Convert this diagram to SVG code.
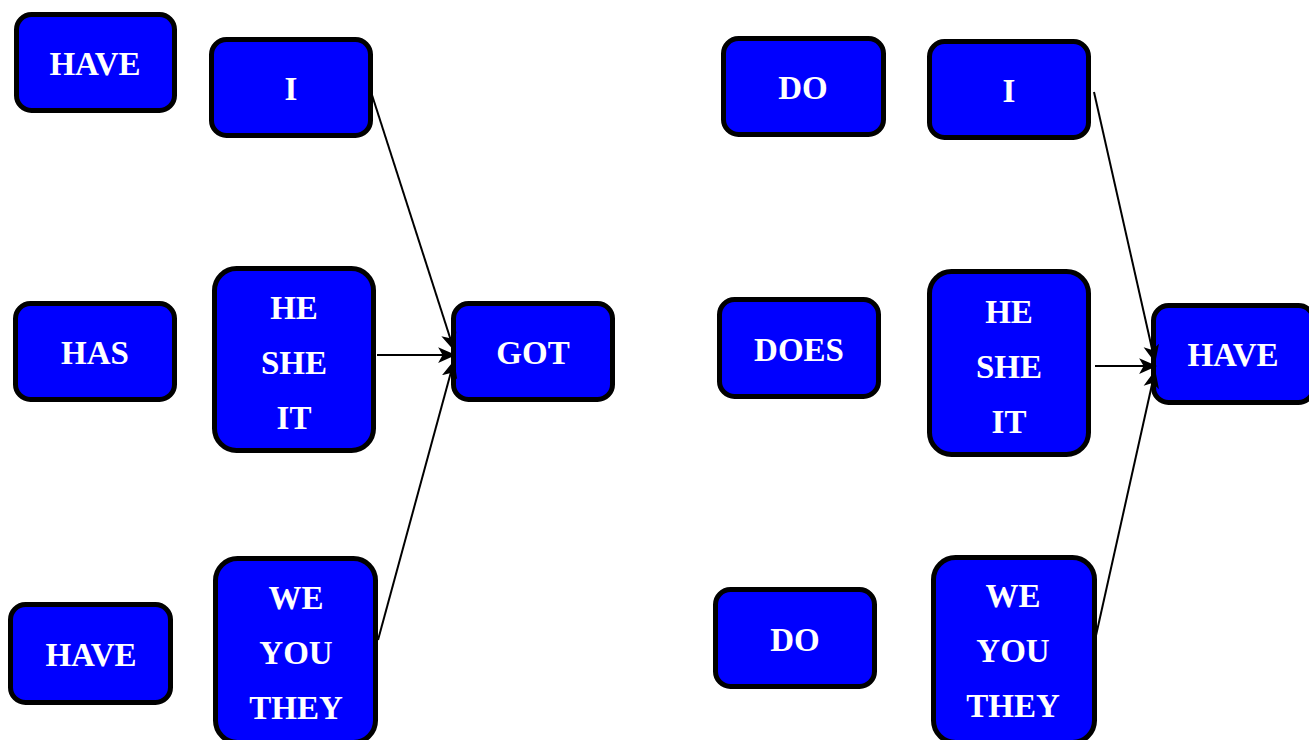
<svg xmlns="http://www.w3.org/2000/svg" width="1309" height="740" viewBox="0 0 1309 740">
<defs>
<style>
.box{fill:#0000ff;stroke:#000;stroke-width:5}
.t{fill:#fff;font-family:"Liberation Serif","Times New Roman",serif;font-weight:bold;font-size:33px;text-anchor:middle}
.c{stroke:#000;stroke-width:2;fill:none;marker-end:url(#ah)}
</style>
<marker id="ah" viewBox="0 0 16 16" markerUnits="strokeWidth" markerWidth="9" markerHeight="9" refX="15" refY="8" orient="auto">
<path d="M0,1 L16,8 L0,15 L4,8 Z" fill="#000"/>
</marker>
</defs>
<rect width="1309" height="740" fill="#fff"/>
<g id="n-have1"><rect class="box" x="16.5" y="14.5" width="158" height="96" rx="15"/><text class="t" x="95" y="75">HAVE</text></g>
<g id="n-i1"><rect class="box" x="211.5" y="39.5" width="159" height="96" rx="15"/><text class="t" x="291" y="100">I</text></g>
<g id="n-has"><rect class="box" x="15.5" y="303.5" width="159" height="96" rx="15"/><text class="t" x="95" y="364">HAS</text></g>
<g id="n-hsi1"><rect class="box" x="214.5" y="268.5" width="159" height="182" rx="22"/><text class="t" x="294" y="319">HE</text><text class="t" x="294" y="374">SHE</text><text class="t" x="294" y="429">IT</text></g>
<g id="n-got"><rect class="box" x="453.5" y="303.5" width="159" height="96" rx="15"/><text class="t" x="533" y="364">GOT</text></g>
<g id="n-have3"><rect class="box" x="10.5" y="604.5" width="160" height="98" rx="15"/><text class="t" x="91" y="666">HAVE</text></g>
<g id="n-wyt1"><rect class="box" x="215.5" y="558.5" width="160" height="184" rx="22"/><text class="t" x="296" y="609">WE</text><text class="t" x="296" y="664">YOU</text><text class="t" x="296" y="719">THEY</text></g>
<g id="n-do1"><rect class="box" x="723.5" y="38.5" width="160" height="96" rx="15"/><text class="t" x="803" y="99">DO</text></g>
<g id="n-i2"><rect class="box" x="929.5" y="41.5" width="159" height="96" rx="15"/><text class="t" x="1009" y="102">I</text></g>
<g id="n-does"><rect class="box" x="719.5" y="299.5" width="159" height="97" rx="15"/><text class="t" x="799" y="361">DOES</text></g>
<g id="n-hsi2"><rect class="box" x="929.5" y="271.5" width="159" height="183" rx="22"/><text class="t" x="1009" y="323">HE</text><text class="t" x="1009" y="378">SHE</text><text class="t" x="1009" y="433">IT</text></g>
<g id="n-have4"><rect class="box" x="1153.5" y="305.5" width="160" height="97" rx="15"/><text class="t" x="1233" y="366">HAVE</text></g>
<g id="n-do2"><rect class="box" x="715.5" y="589.5" width="159" height="97" rx="15"/><text class="t" x="795" y="651">DO</text></g>
<g id="n-wyt2"><rect class="box" x="933.5" y="557.5" width="161" height="185" rx="22"/><text class="t" x="1013" y="607">WE</text><text class="t" x="1013" y="662">YOU</text><text class="t" x="1013" y="717">THEY</text></g>
<g id="connectors">
<line class="c" x1="372" y1="95" x2="454" y2="350"/>
<line class="c" x1="377" y1="355" x2="455" y2="355"/>
<line class="c" x1="378" y1="640" x2="454" y2="361"/>
<line class="c" x1="1094" y1="92" x2="1155" y2="362"/>
<line class="c" x1="1095" y1="366" x2="1156" y2="366"/>
<line class="c" x1="1095" y1="640" x2="1155" y2="371"/>
</g>
</svg>
